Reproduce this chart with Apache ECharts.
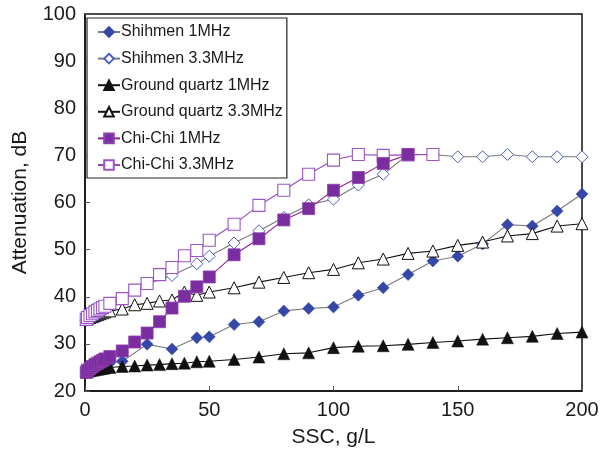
<!DOCTYPE html>
<html>
<head>
<meta charset="utf-8">
<script src="https://cdn.jsdelivr.net/npm/echarts@6/dist/echarts.min.js"></script>
<style>
  html, body { margin: 0; padding: 0; background: #fff; }
  #chart { width: 602px; height: 455px; }
</style>
</head>
<body>
<div id="chart"></div>
<script>
// Suspended sediment concentration (g/L) at which each sample was measured
const shihmenX = [0.5, 1, 2, 3, 4, 5, 6, 7, 8, 10, 15, 25, 35, 45, 50, 60, 70, 80, 90, 100, 110, 120, 130, 140, 150, 160, 170, 180, 190, 200];
const quartzX = [0.5, 1, 2, 3, 4, 5, 6, 7, 8, 10, 15, 20, 25, 30, 35, 40, 45, 50, 60, 70, 80, 90, 100, 110, 120, 130, 140, 150, 160, 170, 180, 190, 200];
const chichiX = [0.5, 1, 2, 3, 4, 5, 6, 7, 8, 10, 15, 20, 25, 30, 35, 40, 45, 50, 60, 70, 80, 90, 100, 110, 120, 130, 140];

// Attenuation (dB)
const shihmen1 = [24.0, 24.2, 24.5, 24.7, 24.9, 25.1, 25.3, 25.5, 25.7, 26.0, 26.3, 29.9, 28.9, 31.3, 31.5, 34.1, 34.7, 37.0, 37.5, 37.8, 40.3, 41.9, 44.7, 47.6, 48.6, 51.2, 55.3, 55.0, 58.2, 61.8];
const shihmen33 = [35.0, 35.3, 35.7, 36.1, 36.5, 36.8, 37.1, 37.4, 37.7, 38.2, 39.6, 42.7, 44.5, 47.0, 48.6, 51.4, 54.0, 56.8, 59.5, 60.7, 63.7, 66.0, 70.2, 70.2, 69.7, 69.7, 70.2, 69.7, 69.7, 69.7];
const quartz1 = [24.0, 24.1, 24.3, 24.4, 24.5, 24.6, 24.7, 24.8, 24.9, 25.0, 25.2, 25.3, 25.5, 25.6, 25.8, 25.9, 26.2, 26.3, 26.7, 27.2, 27.9, 28.1, 29.2, 29.5, 29.6, 29.9, 30.3, 30.6, 31.0, 31.3, 31.6, 32.2, 32.5];
const quartz33 = [35.2, 35.4, 35.6, 35.8, 36.0, 36.2, 36.4, 36.6, 36.8, 37.0, 37.4, 38.3, 38.6, 39.1, 39.3, 41.0, 40.3, 41.0, 41.9, 43.1, 44.1, 45.1, 45.8, 47.2, 48.0, 49.2, 49.7, 50.9, 51.6, 52.9, 53.4, 55.0, 55.5];
const chichi1 = [24.0, 24.4, 24.8, 25.2, 25.6, 25.9, 26.2, 26.5, 26.8, 27.3, 28.5, 30.4, 32.3, 34.7, 37.6, 40.1, 42.1, 44.2, 48.9, 52.3, 56.3, 58.7, 62.6, 65.3, 68.3, 70.2];
const chichi33 = [35.2, 35.6, 36.0, 36.4, 36.8, 37.1, 37.4, 37.7, 38.0, 38.6, 39.6, 41.4, 42.8, 44.7, 46.2, 48.7, 49.8, 52.0, 55.4, 59.4, 62.6, 66.0, 69.0, 70.2, 70.0, 70.1, 70.2];

const seriesNames = ['Shihmen 1MHz', 'Shihmen 3.3MHz', 'Ground quartz 1MHz', 'Ground quartz 3.3MHz', 'Chi-Chi 1MHz', 'Chi-Chi 3.3MHz'];

function pairs(xs, ys) {
  return ys.map((y, i) => [xs[i], y]);
}

const FONT = 'Liberation Sans, Arial, sans-serif';
const TEXT = '#1a1a1a';

function lineSeries(name, data, opts) {
  return {
    name: name,
    type: 'line',
    data: data,
    symbol: opts.symbol,
    symbolSize: opts.size,
    showSymbol: true,
    lineStyle: { color: opts.line, width: 1.1 },
    itemStyle: { color: opts.fill, borderColor: opts.border, borderWidth: opts.bw },
    emphasis: { disabled: true },
    animation: false,
    z: opts.z || 2
  };
}

const chart = echarts.init(document.getElementById('chart'), null, { renderer: 'canvas' });

chart.setOption({
  backgroundColor: '#fff',
  animation: false,
  textStyle: { fontFamily: FONT },
  grid: {
    left: 85, right: 20, top: 14, bottom: 64,
    show: true, borderColor: '#111', borderWidth: 1.5, backgroundColor: 'transparent'
  },
  legend: {
    orient: 'vertical',
    left: 87, top: 18,
    data: seriesNames,
    backgroundColor: '#fff',
    borderColor: '#222', borderWidth: 1.2,
    padding: [6, 4, 5, 10],
    itemWidth: 22, itemHeight: 12, itemGap: 10.6,
    textStyle: { fontSize: 16, color: TEXT, fontFamily: FONT, padding: [0, 0, 0, -4] }
  },
  xAxis: {
    type: 'value', min: 0, max: 200, interval: 50,
    name: 'SSC, g/L', nameLocation: 'middle', nameGap: 36,
    nameTextStyle: { fontSize: 21, color: TEXT },
    axisLine: { lineStyle: { color: '#111', width: 1.5 } },
    axisTick: { inside: true, length: 5, lineStyle: { color: '#555' } },
    axisLabel: { fontSize: 20, color: TEXT, margin: 9 },
    splitLine: { show: false }
  },
  yAxis: {
    type: 'value', min: 20, max: 100, interval: 10,
    name: 'Attenuation, dB', nameLocation: 'middle', nameGap: 54,
    nameTextStyle: { fontSize: 21, color: TEXT },
    axisLine: { lineStyle: { color: '#111', width: 1.5 } },
    axisTick: { inside: true, length: 5, lineStyle: { color: '#555' } },
    axisLabel: { fontSize: 20, color: TEXT, margin: 9 },
    splitLine: { show: false }
  },
  series: [
    lineSeries(seriesNames[0], pairs(shihmenX, shihmen1),
      { symbol: 'diamond', size: 12, line: '#7a7a7a', fill: '#3548a8', border: '#3548a8', bw: 0.5 }),
    lineSeries(seriesNames[1], pairs(shihmenX, shihmen33),
      { symbol: 'diamond', size: 12, line: '#7a7a7a', fill: '#ffffff', border: '#4a5fc0', bw: 1 }),
    lineSeries(seriesNames[2], pairs(quartzX, quartz1),
      { symbol: 'triangle', size: 12, line: '#111111', fill: '#111111', border: '#111111', bw: 0.5 }),
    lineSeries(seriesNames[3], pairs(quartzX, quartz33),
      { symbol: 'triangle', size: 12, line: '#111111', fill: '#ffffff', border: '#111111', bw: 1 }),
    lineSeries(seriesNames[4], pairs(chichiX, chichi1),
      { symbol: 'rect', size: 12, line: '#951f95', fill: '#7a2d9e', border: '#8e3fb0', bw: 0.8, z: 3 }),
    lineSeries(seriesNames[5], pairs(chichiX, chichi33),
      { symbol: 'rect', size: 12, line: '#9a45c4', fill: '#ffffff', border: '#9a55c8', bw: 1.1 })
  ]
});
</script>
</body>
</html>
